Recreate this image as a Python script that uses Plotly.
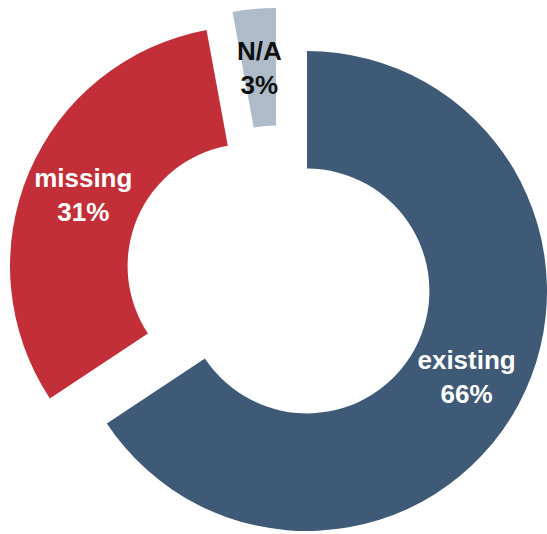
import math
import plotly.graph_objects as go

# Share of records by status
labels = ["existing", "missing", "N/A"]
values = [65.7, 31.4, 2.9]

slice_colors = ["#3e5a76", "#c22f39", "#aebbc8"]
label_colors = ["#ffffff", "#ffffff", "#111111"]

W, H = 547, 534
HOLE = 0.51
FONT = "Liberation Sans, Arial, sans-serif"

# Each slice lives in its own pie (others transparent) so that the
# exploded pieces can be offset independently of one another.
domains = [
    dict(x=[0.1225, 1.0], y=[0.0056, 0.9045]),     # existing (not exploded)
    dict(x=[0.0183, 0.8958], y=[0.0524, 0.9513]),  # missing
    dict(x=[0.0658, 0.9433], y=[0.0861, 0.9850]),  # N/A
]

# Slices too thin for inside text get their label as an annotation,
# placed at mid-ring on the slice bisector.
outside_label = [False, False, True]

total = sum(values)
fig = go.Figure()
annotations = []
for i, dom in enumerate(domains):
    n = len(labels)
    inside = not outside_label[i]
    fig.add_trace(go.Pie(
        labels=labels,
        values=values,
        sort=False,
        direction="clockwise",
        rotation=0,
        hole=HOLE,
        marker=dict(
            colors=[c if j == i else "rgba(0,0,0,0)" for j, c in enumerate(slice_colors)],
            line=dict(width=0),
        ),
        texttemplate=["%{label}<br>%{percent:.0%}" if (j == i and inside) else "" for j in range(n)],
        textposition=["inside" if (j == i and inside) else "none" for j in range(n)],
        insidetextorientation="horizontal",
        textfont=dict(family=FONT, size=26, color=label_colors, weight="bold"),
        domain=dom,
        hoverinfo="skip",
        showlegend=False,
    ))

    if not inside:
        # pie centre and radius in pixels, derived from the trace domain
        cx = (dom["x"][0] + dom["x"][1]) / 2 * W
        cy = (dom["y"][0] + dom["y"][1]) / 2 * H
        r = min((dom["x"][1] - dom["x"][0]) * W, (dom["y"][1] - dom["y"][0]) * H) / 2
        before = sum(values[:i])
        theta = math.radians(360 * (before + values[i] / 2) / total)
        rm = r * (1 + HOLE) / 2
        px = cx + rm * math.sin(theta)
        py = cy + rm * math.cos(theta)
        pct = round(100 * values[i] / total)
        annotations.append(dict(
            x=px / W, y=py / H, xref="paper", yref="paper",
            xanchor="center", yanchor="middle", showarrow=False,
            text=f"{labels[i]}<br>{pct}%",
            font=dict(family=FONT, size=26, color=label_colors[i], weight="bold"),
        ))

fig.update_layout(
    width=W,
    height=H,
    margin=dict(l=0, r=0, t=0, b=0),
    paper_bgcolor="white",
    plot_bgcolor="white",
    uniformtext=dict(minsize=26, mode="show"),
    annotations=annotations,
)

fig.write_html("out.html")
